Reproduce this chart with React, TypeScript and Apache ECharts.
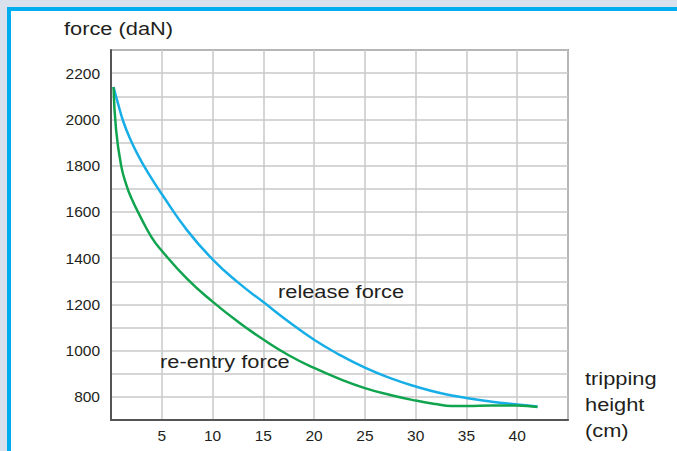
import React, { useEffect, useRef } from "react";
import * as echarts from "echarts";

const xTickLabels = [5, 10, 15, 20, 25, 30, 35, 40];
const yTickLabels = [800, 1000, 1200, 1400, 1600, 1800, 2000, 2200];

const releaseX = [0.25, 0.7, 1.2, 1.9, 2.7, 3.7, 5, 7.5, 10, 12.5, 15, 17.5, 20, 22.5, 25, 27.5, 30, 32.5, 35, 37.5, 40, 42];
const releaseY = [2140, 2067, 1992, 1914, 1842, 1765, 1677, 1520, 1395, 1295, 1210, 1125, 1047, 982, 926, 881, 845, 816, 795, 779, 767, 758];

const reentryX = [0.25, 0.5, 1, 1.5, 2, 3, 4, 5, 7.5, 10, 12.5, 15, 17.5, 20, 22.5, 25, 27.5, 30, 32, 33.5, 35, 37.5, 40, 42];
const reentryY = [2140, 1955, 1800, 1718, 1660, 1570, 1490, 1432, 1310, 1212, 1125, 1048, 980, 925, 878, 838, 808, 784, 769, 761, 761, 763, 763, 756];

const seriesNames = ["release force", "re-entry force"];
const axisTitles = { y: "force (daN)", x: ["tripping", "height", "(cm)"] };

const FONT = "'Liberation Sans', Arial, Helvetica, sans-serif";
const TEXT = "#231f20";

export default function App() {
  const ref = useRef<HTMLDivElement>(null);

  useEffect(() => {
    document.body.style.margin = "0";
    if (!ref.current) return;
    const chart = echarts.init(ref.current, undefined, { renderer: "svg" });
    const pairs = (xs: number[], ys: number[]) => xs.map((x, i) => [x, ys[i]]);
    const annText = (text: string, x: number, y: number) => ({
      type: "text",
      x,
      y,
      scaleX: 1.18,
      style: {
        text,
        fill: TEXT,
        font: `18.5px ${FONT}`,
        textAlign: "left",
        textVerticalAlign: "middle",
        verticalAlign: "middle",
      },
      z: 100,
    });
    chart.setOption({
      animation: false,
      backgroundColor: "transparent",
      grid: {
        left: 111,
        top: 50,
        right: 109,
        bottom: 31,
        show: true,
        borderColor: "#555555",
        borderWidth: 1.5,
        backgroundColor: "transparent",
      },
      xAxis: {
        type: "value",
        min: 0,
        max: 45,
        interval: 5,
        axisLine: { show: true, lineStyle: { color: "#555555", width: 2 } },
        axisTick: { show: false },
        splitLine: { show: true, lineStyle: { color: "#c9c9c9", width: 1.5 } },
        axisLabel: {
          margin: 7,
          color: TEXT,
          fontSize: 15.5,
          fontFamily: FONT,
          formatter: (v: number) => (xTickLabels.includes(v) ? String(v) : ""),
        },
      },
      yAxis: {
        type: "value",
        min: 700,
        max: 2300,
        interval: 100,
        axisLine: { show: true, lineStyle: { color: "#555555", width: 2 } },
        axisTick: { show: false },
        splitLine: { show: true, lineStyle: { color: "#c9c9c9", width: 1.5 } },
        axisLabel: {
          margin: 11,
          color: TEXT,
          fontSize: 15.5,
          fontFamily: FONT,
          formatter: (v: number) => (yTickLabels.includes(v) ? String(v) : ""),
        },
      },
      series: [
        {
          name: seriesNames[0],
          type: "line",
          data: pairs(releaseX, releaseY),
          smooth: 0.5,
          showSymbol: false,
          symbol: "none",
          lineStyle: { color: "#17aee8", width: 2.5 },
          z: 5,
        },
        {
          name: seriesNames[1],
          type: "line",
          data: pairs(reentryX, reentryY),
          smooth: 0.5,
          showSymbol: false,
          symbol: "none",
          lineStyle: { color: "#10a44f", width: 2.5 },
          z: 6,
        },
      ],
      graphic: [
        annText(axisTitles.y, 64, 28.5),
        annText(seriesNames[0], 278, 292),
        annText(seriesNames[1], 160, 362),
        annText(axisTitles.x[0], 585, 378.5),
        annText(axisTitles.x[1], 585, 404.5),
        annText(axisTitles.x[2], 585, 430.5),
      ],
    });
    return () => chart.dispose();
  }, []);

  return (
    <div style={{ position: "relative", width: 677, height: 451, background: "#d9e2ec", overflow: "hidden" }}>
      <div style={{ position: "absolute", left: 7, top: 7, right: 0, bottom: 0, background: "#00aeef" }} />
      <div style={{ position: "absolute", left: 11, top: 11, right: 0, bottom: 0, background: "#ffffff" }} />
      <div ref={ref} style={{ position: "absolute", left: 0, top: 0, width: 677, height: 451 }} />
    </div>
  );
}
